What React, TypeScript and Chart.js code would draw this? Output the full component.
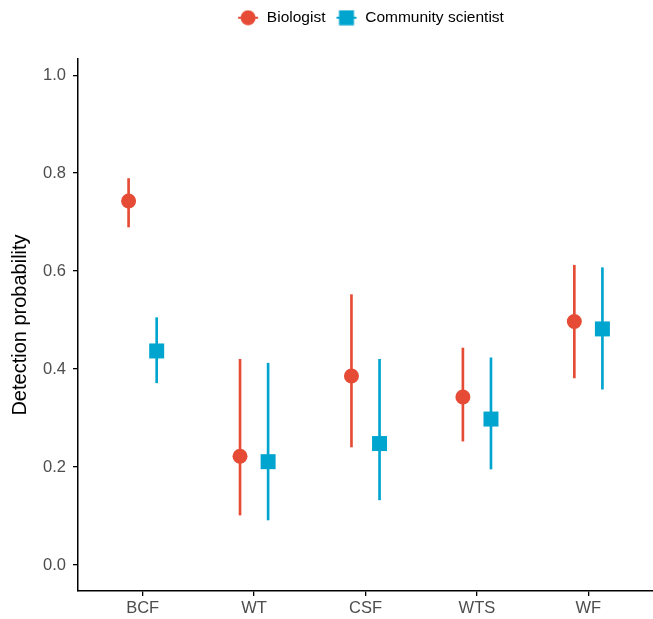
import React, { useEffect, useRef } from "react";
import { Chart, registerables } from "chart.js";

Chart.register(...registerables);

// ---- data ----
const categories = ["BCF", "WT", "CSF", "WTS", "WF"];
const seriesNames = ["Biologist", "Community scientist"];
const bioEst = [0.743, 0.222, 0.386, 0.343, 0.497];
const bioLow = [0.69, 0.102, 0.241, 0.253, 0.382];
const bioHigh = [0.789, 0.42, 0.552, 0.443, 0.612];
const csEst = [0.437, 0.211, 0.248, 0.298, 0.482];
const csLow = [0.372, 0.092, 0.133, 0.196, 0.359];
const csHigh = [0.505, 0.412, 0.42, 0.423, 0.607];
const yTicks = [0, 0.2, 0.4, 0.6, 0.8, 1.0];
const yTitle = "Detection probability";

const RED = "#E64B35";
const BLUE = "#00A5CF";
const DODGE = 0.126;
const FONT = "'Liberation Sans', Arial, sans-serif";

function makeKey(color: string, shape: "circle" | "square") {
  const c = document.createElement("canvas");
  c.width = 22;
  c.height = 16;
  const ctx = c.getContext("2d")!;
  ctx.fillStyle = color;
  ctx.fillRect(1, 7, 20, 2);
  if (shape === "circle") {
    ctx.beginPath();
    ctx.arc(11, 8, 7.5, 0, Math.PI * 2);
    ctx.fill();
  } else {
    ctx.fillRect(3.5, 0.5, 15, 15);
  }
  return c;
}

export default function App() {
  const ref = useRef<HTMLCanvasElement | null>(null);

  useEffect(() => {
    document.body.style.margin = "0";
    const canvas = ref.current!;
    const keys = [makeKey(RED, "circle"), makeKey(BLUE, "square")];

    const legendPatch = {
      id: "legendPatch",
      beforeLayout(chart: any) {
        const lg = chart.legend;
        if (lg && !lg.__patched) {
          const orig = lg.fit.bind(lg);
          lg.fit = function () {
            orig();
            this.height = 59;
            if (this.lineWidths && this.lineWidths.length) this.lineWidths[0] -= 10;
          };
          lg.__patched = true;
        }
      },
    };

    const chart = new Chart(canvas, {
      type: "scatter",
      data: {
        datasets: [
          {
            type: "scatter",
            label: seriesNames[0],
            data: categories.map((_, i) => ({ x: i - DODGE, y: bioEst[i] })),
            backgroundColor: RED,
            borderWidth: 0,
            pointStyle: "circle",
            pointRadius: 7.5,
            pointHoverRadius: 7.5,
            order: 1,
          },
          {
            type: "scatter",
            label: seriesNames[1],
            data: categories.map((_, i) => ({ x: i + DODGE, y: csEst[i] })),
            backgroundColor: BLUE,
            borderWidth: 0,
            pointStyle: "rect",
            pointRadius: 10.6,
            pointHoverRadius: 10.6,
            order: 1,
          },
          {
            type: "bar",
            label: seriesNames[0] + " CI",
            data: categories.map((_, i) => ({ x: i - DODGE, y: [bioLow[i], bioHigh[i]] })) as any,
            backgroundColor: RED,
            borderWidth: 0,
            barThickness: 2,
            grouped: false,
            order: 2,
          } as any,
          {
            type: "bar",
            label: seriesNames[1] + " CI",
            data: categories.map((_, i) => ({ x: i + DODGE, y: [csLow[i], csHigh[i]] })) as any,
            backgroundColor: BLUE,
            borderWidth: 0,
            barThickness: 2,
            grouped: false,
            order: 2,
          } as any,
        ],
      },
      options: {
        responsive: false,
        animation: false,
        layout: { autoPadding: false, padding: 0 },
        plugins: {
          tooltip: { enabled: false },
          legend: {
            display: true,
            position: "top",
            align: "center",
            fullSize: false,
            labels: {
              usePointStyle: true,
              pointStyleWidth: 22,
              padding: 10,
              color: "#000000",
              font: { family: FONT, size: 15.5 },
              generateLabels: (ch: any) => {
                const items = (Chart.defaults.plugins.legend.labels as any).generateLabels(ch);
                return items
                  .filter((it: any) => it.datasetIndex < 2)
                  .map((it: any) => ({ ...it, pointStyle: keys[it.datasetIndex] }));
              },
            },
          },
        },
        scales: {
          x: {
            type: "linear",
            min: -0.58,
            max: 4.58,
            offset: false,
            afterBuildTicks: (s: any) => {
              s.ticks = categories.map((_, i) => ({ value: i }));
            },
            afterFit: (s: any) => {
              s.height = 28;
            },
            ticks: {
              autoSkip: false,
              maxRotation: 0,
              padding: 3,
              color: "#4D4D4D",
              font: { family: FONT, size: 16.5 },
              callback: (v: any) => categories[Math.round(Number(v))],
            },
            grid: {
              display: true,
              drawOnChartArea: false,
              drawTicks: true,
              tickLength: 5,
              color: "#000000",
              lineWidth: 1.3,
              offset: false,
            },
            border: { display: true, color: "#000000", width: 1.5 },
          },
          y: {
            type: "linear",
            min: -0.053,
            max: 1.033,
            afterBuildTicks: (s: any) => {
              s.ticks = yTicks.map((v) => ({ value: v }));
            },
            afterFit: (s: any) => {
              s.width = 78;
            },
            ticks: {
              padding: 7,
              color: "#4D4D4D",
              font: { family: FONT, size: 16.5 },
              callback: (v: any) => Number(v).toFixed(1),
            },
            grid: {
              display: true,
              drawOnChartArea: false,
              drawTicks: true,
              tickLength: 5,
              color: "#000000",
              lineWidth: 1.3,
            },
            border: { display: true, color: "#000000", width: 1.5 },
            title: {
              display: true,
              text: yTitle,
              color: "#000000",
              font: { family: FONT, size: 20 },
              padding: { top: 8, bottom: 0 },
            },
          },
        },
      },
      plugins: [legendPatch],
    } as any);

    return () => chart.destroy();
  }, []);

  return (
    <div style={{ position: "absolute", left: 0, top: 0, width: 653, height: 619, background: "#ffffff" }}>
      <canvas ref={ref} width={653} height={619} style={{ display: "block" }} />
    </div>
  );
}
